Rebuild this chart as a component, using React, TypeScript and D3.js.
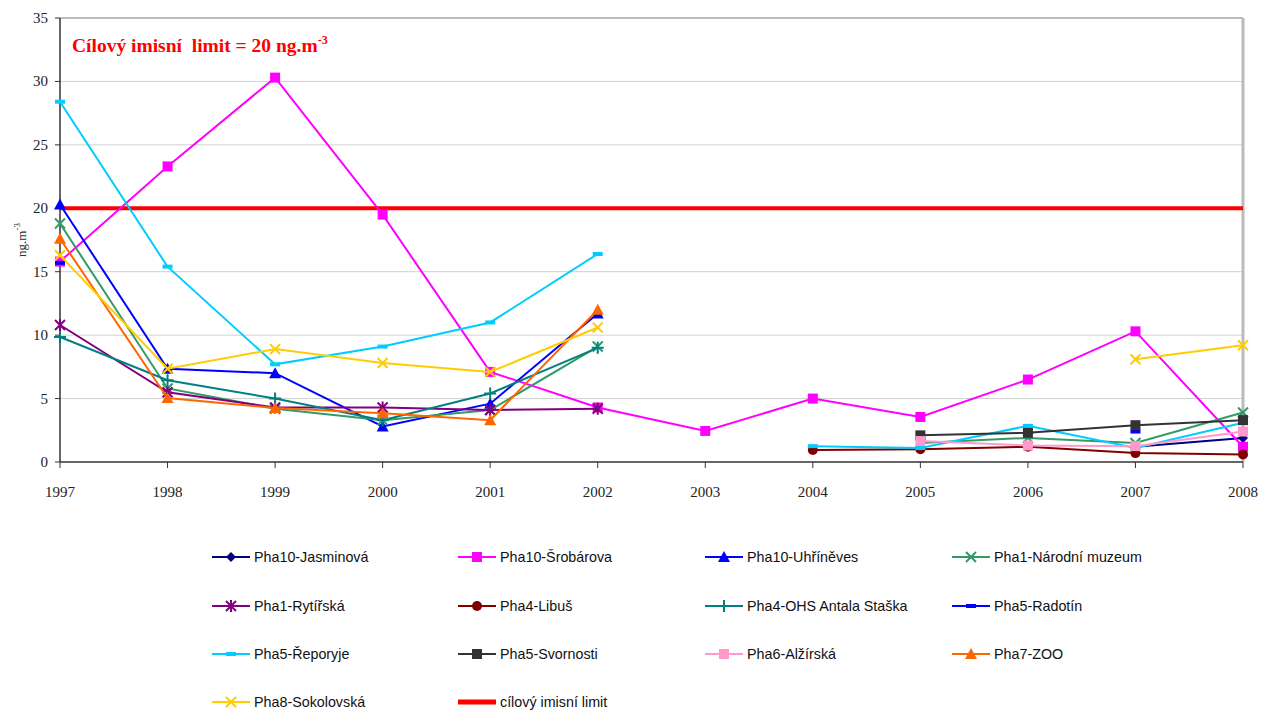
import React from "react";
import * as d3 from "d3";

const years = [1997, 1998, 1999, 2000, 2001, 2002, 2003, 2004, 2005, 2006, 2007, 2008];
const yTicks = [0, 5, 10, 15, 20, 25, 30, 35];
const limitValue = 20;

type V = number | null;

const jasminova: V[] = [null, null, null, null, null, null, null, null, null, null, 1.2, 1.9];
const srobarova: V[] = [15.8, 23.3, 30.3, 19.5, 7.1, 4.3, 2.45, 5.0, 3.55, 6.5, 10.3, 1.2];
const uhrineves: V[] = [20.3, 7.35, 7.0, 2.8, 4.6, 11.7, null, null, null, null, null, null];
const narodniMuzeum: V[] = [18.8, 5.8, 4.2, 3.3, 4.1, 9.1, null, null, 1.5, 1.9, 1.5, 3.9];
const rytirska: V[] = [10.8, 5.5, 4.3, 4.3, 4.1, 4.2, null, null, null, null, null, null];
const libus: V[] = [null, null, null, null, null, null, null, 0.95, 1.0, 1.2, 0.7, 0.6];
const antalaStaska: V[] = [9.85, 6.45, 5.0, 3.3, 5.4, 9.0, null, null, null, null, null, null];
const radotin: V[] = [15.7, null, null, null, null, null, null, null, null, null, 2.4, null];
const reporyje: V[] = [28.4, 15.4, 7.7, 9.1, 11.0, 16.4, null, 1.25, 1.1, 2.85, 1.1, 3.1];
const svornosti: V[] = [null, null, null, null, null, null, null, null, 2.1, 2.3, 2.9, 3.3];
const alzirska: V[] = [null, null, null, null, null, null, null, null, 1.65, 1.3, 1.25, 2.4];
const zoo: V[] = [17.6, 5.05, 4.25, 3.85, 3.3, 12.0, null, null, null, null, null, null];
const sokolovska: V[] = [16.3, 7.35, 8.9, 7.8, 7.1, 10.6, null, null, null, null, 8.1, 9.2];

type Marker = "diamond" | "square" | "triangle" | "x" | "star" | "circle" | "plus" | "dash" | "none";

interface Series {
  name: string;
  values: V[];
  color: string;
  marker: Marker;
}

const series: Series[] = [
  { name: "Pha10-Jasminová", values: jasminova, color: "#000080", marker: "diamond" },
  { name: "Pha10-Šrobárova", values: srobarova, color: "#FF00FF", marker: "square" },
  { name: "Pha10-Uhříněves", values: uhrineves, color: "#0000FF", marker: "triangle" },
  { name: "Pha1-Národní muzeum", values: narodniMuzeum, color: "#339966", marker: "x" },
  { name: "Pha1-Rytířská", values: rytirska, color: "#800080", marker: "star" },
  { name: "Pha4-Libuš", values: libus, color: "#800000", marker: "circle" },
  { name: "Pha4-OHS Antala Staška", values: antalaStaska, color: "#008080", marker: "plus" },
  { name: "Pha5-Radotín", values: radotin, color: "#0000FF", marker: "dash" },
  { name: "Pha5-Řeporyje", values: reporyje, color: "#00CCFF", marker: "dash" },
  { name: "Pha5-Svornosti", values: svornosti, color: "#333333", marker: "square" },
  { name: "Pha6-Alžírská", values: alzirska, color: "#FF99CC", marker: "square" },
  { name: "Pha7-ZOO", values: zoo, color: "#FF6600", marker: "triangle" },
  { name: "Pha8-Sokolovská", values: sokolovska, color: "#FFCC00", marker: "x" },
];

const limitName = "cílový imisní limit";

const W = 1263;
const H = 711;
const plot = { left: 60, right: 1243, top: 18, bottom: 462 };

const x = d3.scaleLinear().domain([1997, 2008]).range([plot.left, plot.right]);
const y = d3.scaleLinear().domain([0, 35]).range([plot.bottom, plot.top]);

function MarkerShape({ kind, cx, cy, color }: { kind: Marker; cx: number; cy: number; color: string }) {
  switch (kind) {
    case "square":
      return <rect x={cx - 5} y={cy - 5} width={10} height={10} fill={color} />;
    case "diamond":
      return <path d={`M${cx},${cy - 5}L${cx + 5},${cy}L${cx},${cy + 5}L${cx - 5},${cy}Z`} fill={color} />;
    case "triangle":
      return <path d={`M${cx},${cy - 6}L${cx + 6},${cy + 5}L${cx - 6},${cy + 5}Z`} fill={color} />;
    case "circle":
      return <circle cx={cx} cy={cy} r={5} fill={color} />;
    case "x":
      return (
        <path
          d={`M${cx - 5},${cy - 5}L${cx + 5},${cy + 5}M${cx - 5},${cy + 5}L${cx + 5},${cy - 5}`}
          stroke={color}
          strokeWidth={2}
        />
      );
    case "star":
      return (
        <path
          d={`M${cx - 5},${cy - 5}L${cx + 5},${cy + 5}M${cx - 5},${cy + 5}L${cx + 5},${cy - 5}M${cx},${cy - 6}L${cx},${cy + 6}`}
          stroke={color}
          strokeWidth={2}
        />
      );
    case "plus":
      return (
        <path d={`M${cx - 6},${cy}L${cx + 6},${cy}M${cx},${cy - 6}L${cx},${cy + 6}`} stroke={color} strokeWidth={2} />
      );
    case "dash":
      return <rect x={cx - 5} y={cy - 2} width={10} height={4} fill={color} />;
    default:
      return null;
  }
}

const lineGen = d3
  .line<[number, V]>()
  .defined((d) => d[1] !== null)
  .x((d) => x(d[0]))
  .y((d) => y(d[1] as number));

const legendCols = [212, 458, 705, 952];
const legendRows = [557, 606, 654, 702];
const legendLineLen = 38;

export default function App() {
  const legendItems = [
    ...series.map((s) => ({ name: s.name, color: s.color, marker: s.marker, limit: false })),
    { name: limitName, color: "#FF0000", marker: "none" as Marker, limit: true },
  ];

  return (
    <svg
      width={W}
      height={H}
      style={{ position: "absolute", left: 0, top: 0, background: "#fff" }}
      fontFamily="'Liberation Serif', 'Times New Roman', serif"
    >
      {/* horizontal gridlines */}
      {yTicks
        .filter((t) => t > 0)
        .map((t) => (
          <line
            key={`g${t}`}
            x1={plot.left}
            x2={plot.right}
            y1={y(t)}
            y2={y(t)}
            stroke={t === 35 ? "#BBBBBB" : "#D0D0D0"}
            strokeWidth={t === 35 ? 2 : 1}
          />
        ))}
      <line x1={plot.right} x2={plot.right} y1={plot.top} y2={plot.bottom} stroke="#BBBBBB" strokeWidth={3} />

      {/* axes */}
      <line x1={plot.left} x2={plot.left} y1={plot.top} y2={plot.bottom} stroke="#333" strokeWidth={1.5} />
      <line x1={plot.left} x2={plot.right} y1={plot.bottom} y2={plot.bottom} stroke="#333" strokeWidth={1.5} />
      {yTicks.map((t) => (
        <g key={`yt${t}`}>
          <line x1={plot.left - 5} x2={plot.left} y1={y(t)} y2={y(t)} stroke="#333" strokeWidth={1} />
          <text x={plot.left - 12} y={y(t) + 5} textAnchor="end" fontSize={15} fill="#222">
            {t}
          </text>
        </g>
      ))}
      {years.map((yr) => (
        <g key={`xt${yr}`}>
          <line x1={x(yr)} x2={x(yr)} y1={plot.bottom} y2={plot.bottom + 6} stroke="#333" strokeWidth={1} />
          <text x={x(yr)} y={plot.bottom + 35} textAnchor="middle" fontSize={15} fill="#222">
            {yr}
          </text>
        </g>
      ))}

      {/* axis title */}
      <text transform="translate(26,240) rotate(-90)" textAnchor="middle" fontSize={13} fill="#333">
        ng.m<tspan dy={-6} fontSize={9}>-3</tspan>
      </text>

      {/* limit */}
      <line x1={plot.left} x2={plot.right} y1={y(limitValue)} y2={y(limitValue)} stroke="#FF0000" strokeWidth={4} />

      {/* series */}
      {series.map((s) => {
        const pts: [number, V][] = years.map((yr, i) => [yr, s.values[i]]);
        return (
          <g key={s.name}>
            <path d={lineGen(pts) ?? ""} fill="none" stroke={s.color} strokeWidth={2} />
            {pts
              .filter((p) => p[1] !== null)
              .map((p) => (
                <MarkerShape key={p[0]} kind={s.marker} cx={x(p[0])} cy={y(p[1] as number)} color={s.color} />
              ))}
          </g>
        );
      })}

      {/* annotation */}
      <text x={72} y={52} fontSize={19.5} fontWeight="bold" fill="#FF0000">
        Cílový imisní{"\u00A0\u00A0"}limit = 20 ng.m<tspan dy={-8} fontSize={12}>-3</tspan>
      </text>

      {/* legend */}
      <g fontFamily="'Liberation Sans', Arial, sans-serif" fontSize={14.3} fill="#111">
        {legendItems.map((it, i) => {
          const col = i % 4;
          const row = Math.floor(i / 4);
          const lx = legendCols[col];
          const ly = legendRows[row];
          return (
            <g key={it.name}>
              <line
                x1={lx}
                x2={lx + legendLineLen}
                y1={ly}
                y2={ly}
                stroke={it.color}
                strokeWidth={it.limit ? 5 : 2}
              />
              <MarkerShape kind={it.marker} cx={lx + legendLineLen / 2} cy={ly} color={it.color} />
              <text x={lx + legendLineLen + 4} y={ly + 5} fill="#111">
                {it.name}
              </text>
            </g>
          );
        })}
      </g>
    </svg>
  );
}
